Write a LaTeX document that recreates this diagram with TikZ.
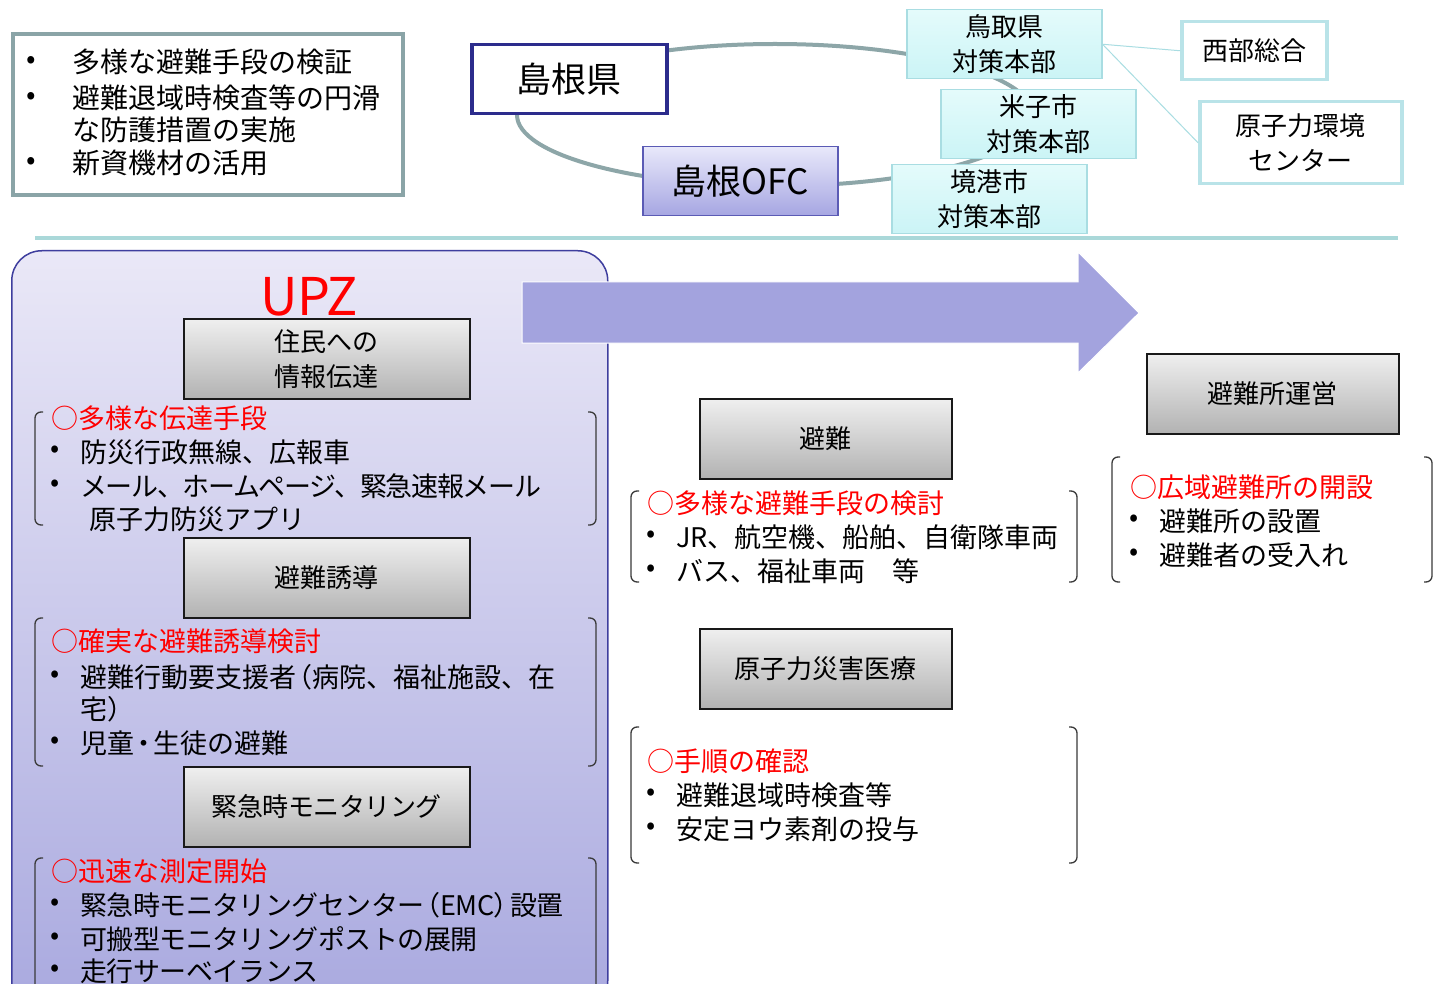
\documentclass[tikz,border=0pt]{standalone}
\usepackage{fontspec}
\setmainfont{Noto Sans CJK JP}
\definecolor{ringcol}{HTML}{8DA6A8}
\definecolor{tlborder}{HTML}{8AA4A7}
\definecolor{navy}{HTML}{2C2C8C}
\definecolor{ofcborder}{HTML}{5B5BB5}
\definecolor{ofctop}{HTML}{E8E8FA}
\definecolor{ofcbot}{HTML}{A6A6E2}
\definecolor{cyantop}{HTML}{E4FBFB}
\definecolor{cyanbot}{HTML}{CBF4F6}
\definecolor{cyanborder}{HTML}{A9DDE2}
\definecolor{paleborder}{HTML}{B9E3E8}
\definecolor{sepcol}{HTML}{AAD8D9}
\definecolor{paneltop}{HTML}{EAE8F7}
\definecolor{panelbot}{HTML}{A9A9DF}
\definecolor{panelborder}{HTML}{3E3E9E}
\definecolor{arrowcol}{HTML}{A3A3DE}
\definecolor{graytop}{HTML}{EFEFEF}
\definecolor{graybot}{HTML}{B2B2B2}
\definecolor{brk}{HTML}{3A3A3A}
\definecolor{redtxt}{HTML}{FF0000}
\newcommand{\fsbody}{\fontsize{27}{34}\selectfont}
\newcommand{\fsbox}{\fontsize{26}{35}\selectfont}
\newcommand{\lpar}{\kern-0.4em（}
\newcommand{\rpar}{）\kern-0.4em}
\newcommand{\bkpair}[4]{%
  \draw[brkline] (#1+8,#2) -- (#1,#2) -- (#1,#4) -- (#1+8,#4);
  \draw[brkline] (#3-8,#2) -- (#3,#2) -- (#3,#4) -- (#3-8,#4);}
\tikzset{
  box/.style={draw, inner sep=0pt, align=center, anchor=north west},
  graybox/.style={box, draw=black!90, line width=1.8pt, top color=graytop, bottom color=graybot,
    minimum width=286pt, minimum height=80pt, font=\fsbox},
  cyanbox/.style={box, draw=cyanborder, line width=1.5pt, top color=cyantop, bottom color=cyanbot,
    minimum width=195pt, minimum height=69pt, font=\fsbox},
  palebox/.style={box, draw=paleborder, line width=3.5pt, fill=white, font=\fsbox},
  txt/.style={anchor=west, inner sep=0pt, font=\fsbody},
  rtxt/.style={txt, text=redtxt},
  tltxt/.style={anchor=west, inner sep=0pt, font=\fontsize{28}{34}\selectfont},
  brkline/.style={draw=brk, line width=1.3pt, rounded corners=6pt},
  thinlink/.style={draw=cyanborder, line width=1pt},
}
\begin{document}
\begin{tikzpicture}[x=1pt,y=-1pt]
\useasboundingbox (0,0) rectangle (1443,984);
\fill[white] (0,0) rectangle (1443,984);
% separator
\coordinate (sepL) at (35,238);
\coordinate (sepR) at (1398,238);
\draw[sepcol, line width=4pt] (sepL) -- (sepR);
% ring
\draw[ringcol, line width=4pt] (775,115) ellipse [x radius=258pt, y radius=71pt];
% top boxes
\node[box, draw=navy, line width=3.5pt, fill=white, minimum width=195pt, minimum height=69pt,
  font=\fontsize{35}{40}\selectfont] (shimane) at (470,43) {島根県};
\node[box, draw=ofcborder, line width=1.5pt, top color=ofctop, bottom color=ofcbot,
  minimum width=195pt, minimum height=69pt, font=\fontsize{35}{40}\selectfont] (ofc) at (642,146) {島根OFC};
\node[cyanbox] (tottori) at (906,9) {鳥取県\\対策本部};
\node[cyanbox] (yonago) at (940,89) {米子市\\対策本部};
\node[cyanbox] (sakai) at (891,164) {境港市\\対策本部};
\node[palebox, minimum width=145pt, minimum height=58pt] (seibu) at (1180,20) {西部総合};
\node[palebox, minimum width=202pt, minimum height=82pt] (genshi) at (1198,100) {原子力環境\\センター};
\draw[thinlink] (tottori.east) -- (seibu.west);
\draw[thinlink] (tottori.east) -- (genshi.west);
% top-left box
\node[box, draw=tlborder, line width=4pt, fill=white, minimum width=390pt, minimum height=161pt] (tl) at (11,32) {};
\node[tltxt] (tlb1) at (26,62) {•};
\node[tltxt] (tlt1) at (72,62) {多様な避難手段の検証};
\node[tltxt] (tlb2) at (26,98) {•};
\node[tltxt] (tlt2) at (72,98) {避難退域時検査等の円滑};
\node[tltxt] (tlt3) at (72,130) {な防護措置の実施};
\node[tltxt] (tlb3) at (26,163) {•};
\node[tltxt] (tlt4) at (72,163) {新資機材の活用};
% UPZ panel
\begin{scope}
\clip (0,0) rectangle (1443,984);
\node[box, draw=panelborder, line width=1.5pt, rounded corners=30pt, top color=paneltop, bottom color=panelbot,
  minimum width=596pt, minimum height=760pt] (panel) at (11,250) {};
\end{scope}
% big arrow
\fill[arrowcol, draw=white, line width=1pt] (522,282) -- (1078,282) -- (1078,252) -- (1139,313)
  -- (1078,373) -- (1078,343) -- (522,343) -- cycle;
% UPZ title
\node[inner sep=0pt, text=redtxt, font=\fontsize{52}{55}\selectfont] (upz) at (309,297) {UPZ};
% gray boxes
\node[graybox] (jumin) at (183,318) {住民への\\情報伝達};
\node[graybox] (yudo) at (183,537) {避難誘導};
\node[graybox] (monitor) at (183,766) {\addfontfeature{LetterSpace=-2}緊急時モニタリング};
\node[graybox, minimum width=252pt] (hinan) at (699,398) {避難};
\node[graybox, minimum width=252pt] (iryo) at (699,628) {原子力災害医療};
\node[graybox, minimum width=252pt] (unei) at (1146,353) {避難所運営};
% brackets
\bkpair{35}{412}{596}{525}
\bkpair{35}{618}{596}{766}
\bkpair{35}{858}{596}{1000}
\bkpair{631}{491}{1077}{582}
\bkpair{631}{727}{1077}{863}
\bkpair{1112}{457}{1432}{582}
% group 1
\node[rtxt] (g1r) at (51,418) {○多様な伝達手段};
\node[txt] (g1b1) at (50,452) {•};
\node[txt] (g1t1) at (80,452) {防災行政無線、広報車};
\node[txt] (g1b2) at (50,486) {•};
\node[txt] (g1t2) at (80,486) {\addfontfeature{LetterSpace=-5}メール、ホームページ、緊急速報メール};
\node[txt] (g1t3) at (89,519) {原子力防災アプリ};
% group 2
\node[rtxt] (g2r) at (51,641) {○確実な避難誘導検討};
\node[txt] (g2b1) at (50,677) {•};
\node[txt] (g2t1) at (80,677) {避難行動要支援者\lpar 病院、福祉施設、在};
\node[txt] (g2t2) at (80,709) {宅\rpar};
\node[txt] (g2b2) at (50,743) {•};
\node[txt] (g2t3) at (80,743) {児童\kern-0.15em・\kern-0.15em 生徒の避難};
% group 3
\node[rtxt] (g3r) at (51,871) {○迅速な測定開始};
\node[txt] (g3b1) at (50,905) {•};
\node[txt] (g3t1) at (80,905) {\addfontfeature{LetterSpace=-2}緊急時モニタリングセンター\lpar EMC\rpar 設置};
\node[txt] (g3b2) at (50,939) {•};
\node[txt] (g3t2) at (80,939) {\addfontfeature{LetterSpace=-2}可搬型モニタリングポストの展開};
\node[txt] (g3b3) at (50,971) {•};
\node[txt] (g3t3) at (80,971) {\addfontfeature{LetterSpace=-2}走行サーベイランス};
% middle groups
\node[rtxt] (m1r) at (647,503) {○多様な避難手段の検討};
\node[txt] (m1b1) at (646,537) {•};
\node[txt] (m1t1) at (676,537) {JR、航空機、船舶、自衛隊車両};
\node[txt] (m1b2) at (646,571) {•};
\node[txt] (m1t2) at (676,571) {バス、福祉車両　等};
\node[rtxt] (m2r) at (647,761) {○手順の確認};
\node[txt] (m2b1) at (646,795) {•};
\node[txt] (m2t1) at (676,795) {避難退域時検査等};
\node[txt] (m2b2) at (646,829) {•};
\node[txt] (m2t2) at (676,829) {安定ヨウ素剤の投与};
% right group
\node[rtxt] (r1r) at (1130,487) {○広域避難所の開設};
\node[txt] (r1b1) at (1129,521) {•};
\node[txt] (r1t1) at (1159,521) {避難所の設置};
\node[txt] (r1b2) at (1129,555) {•};
\node[txt] (r1t2) at (1159,555) {避難者の受入れ};
\end{tikzpicture}
\end{document}
